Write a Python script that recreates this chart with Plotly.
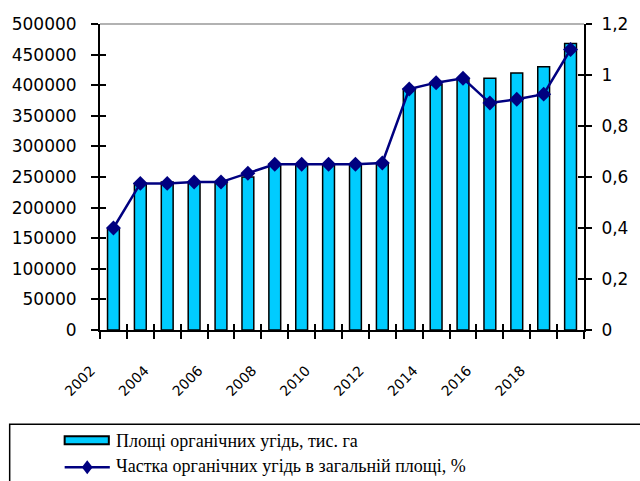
import plotly.graph_objects as go

# ---- data ----
years = list(range(2002, 2020))
area_ths_ha = [164449, 239542, 242034, 241980, 242034, 249872, 270226, 270320,
               270320, 270320, 272850, 393400, 400764, 410550, 411200, 420000,
               430000, 467980]
share_pct = [0.40, 0.575, 0.575, 0.58, 0.58, 0.615, 0.65, 0.65, 0.65, 0.65,
             0.655, 0.945, 0.97, 0.987, 0.89, 0.905, 0.925, 1.10]
bar_name = "Площі органічних угідь, тис. га"
line_name = "Частка органічних угідь в загальній площі, %"
left_range = [0, 500000]
right_range = [0, 1.2]

# ---- geometry (pixels) ----
W, H = 640, 481
L, R, T, B = 100, 593, 24, 330.5
PW, PH = R - L, B - T


def px(x):
    return (x - L) / PW


def py(y):
    return (B - y) / PH


BAR_COLOR = "#00CCFF"
LINE_COLOR = "#000080"

boundaries = [y - 0.5 for y in years] + [years[-1] + 0.5]
tick_text = [str(y) if (y - years[0]) % 2 == 0 else "" for y in years] + [""]
xrange_ = [boundaries[0], boundaries[-1]]

fig = go.Figure()
fig.add_trace(go.Bar(
    x=years, y=area_ths_ha, name=bar_name, width=0.44,
    marker=dict(color=BAR_COLOR, line=dict(color="black", width=1.5)),
    xaxis="x", yaxis="y", showlegend=False))
fig.add_trace(go.Scatter(
    x=years, y=share_pct, name=line_name, mode="lines+markers",
    line=dict(color=LINE_COLOR, width=2.5),
    marker=dict(symbol="diamond", size=11.5, color=LINE_COLOR),
    xaxis="x", yaxis="y2", showlegend=False))
# invisible helper traces so the inside-tick overlay axes are drawn
fig.add_trace(go.Scatter(x=[None], y=[None], xaxis="x2", yaxis="y3",
                         showlegend=False, hoverinfo="skip"))
fig.add_trace(go.Scatter(x=[None], y=[None], xaxis="x2", yaxis="y4",
                         showlegend=False, hoverinfo="skip"))

axis_common = dict(showgrid=False, zeroline=False, linecolor="black",
                   tickcolor="black", tickwidth=2)
tick_font = dict(family="DejaVu Sans", size=17, color="black")

fig.update_layout(
    width=W, height=H,
    margin=dict(l=L, r=W - R, t=T, b=H - B, pad=0),
    paper_bgcolor="white", plot_bgcolor="white",
    separators=", ",
    font=dict(family="DejaVu Sans", color="black"),
    xaxis=dict(range=xrange_, tickmode="array", tickvals=boundaries,
               ticktext=tick_text, ticks="outside", ticklen=7,
               showline=True, linewidth=2, tickangle=-45,
               ticklabelstandoff=18, ticklabelshift=-9,
               tickfont=dict(family="DejaVu Sans", size=14, color="black"),
               **axis_common),
    xaxis2=dict(range=xrange_, overlaying="x", anchor="y3", tickmode="array",
                tickvals=boundaries, ticks="inside", ticklen=6,
                showticklabels=False, showline=False, **axis_common),
    yaxis=dict(range=left_range, dtick=50000, tickformat="d",
               ticks="outside", ticklen=7, showline=True, linewidth=2,
               ticklabelstandoff=11, tickfont=tick_font, **axis_common),
    yaxis2=dict(range=right_range, dtick=0.2, overlaying="y", side="right",
                anchor="x", ticks="outside", ticklen=6, showline=True,
                linewidth=2, ticklabelstandoff=6, tickfont=tick_font,
                **axis_common),
    yaxis3=dict(range=left_range, dtick=50000, overlaying="y", anchor="x2",
                side="left", ticks="inside", ticklen=6,
                showticklabels=False, showline=False, **axis_common),
    yaxis4=dict(range=right_range, dtick=0.2, overlaying="y", anchor="x2",
                side="right", ticks="inside", ticklen=6,
                showticklabels=False, showline=False, **axis_common),
    showlegend=False,
)

shapes = [
    # top gray border line
    dict(type="line", xref="paper", yref="paper", x0=0, x1=1, y0=1, y1=1,
         line=dict(color="#999999", width=1.5), layer="below"),
    # legend box
    dict(type="rect", xref="paper", yref="paper", x0=px(8), x1=px(660),
         y0=py(425), y1=py(500), line=dict(color="black", width=1.5)),
    # bar swatch
    dict(type="rect", xref="paper", yref="paper", x0=px(64), x1=px(109),
         y0=py(437), y1=py(445), fillcolor=BAR_COLOR,
         line=dict(color="black", width=2)),
    # line swatch
    dict(type="line", xref="paper", yref="paper", x0=px(64), x1=px(110),
         y0=py(468), y1=py(468), line=dict(color=LINE_COLOR, width=2.5)),
    dict(type="path", xref="paper", yref="paper",
         path=(f"M {px(81.5)} {py(468)} L {px(87)} {py(461)} "
               f"L {px(92.5)} {py(468)} L {px(87)} {py(475)} Z"),
         fillcolor=LINE_COLOR, line=dict(color=LINE_COLOR, width=0)),
]
fig.update_layout(shapes=shapes)

legend_font = dict(family="Liberation Serif", size=18, color="black")
fig.add_annotation(x=px(114), y=py(442), xref="paper", yref="paper",
                   text=bar_name, showarrow=False, xanchor="left",
                   yanchor="middle", font=legend_font)
fig.add_annotation(x=px(114), y=py(467), xref="paper", yref="paper",
                   text=line_name, showarrow=False, xanchor="left",
                   yanchor="middle", font=legend_font)

fig.write_html(
    "out.html",
    config={"displayModeBar": False},
    post_script="document.body.style.margin='0';"
                "document.body.style.overflow='hidden';")
